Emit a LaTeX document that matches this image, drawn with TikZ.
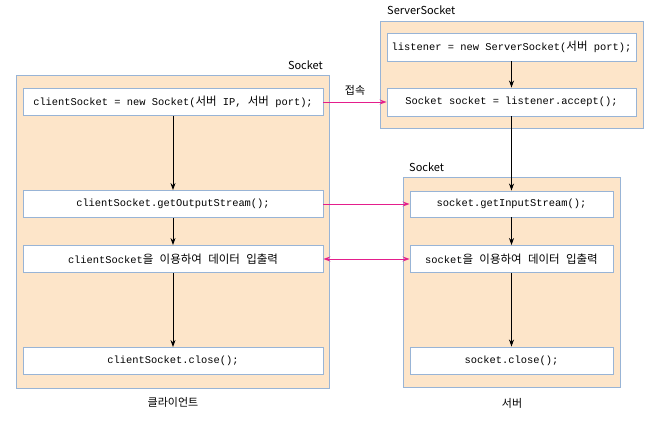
\documentclass[tikz,border=0pt]{standalone}
\usepackage{fontspec}
\usetikzlibrary{arrows.meta}
\setmainfont{Noto Sans CJK KR}
\setmonofont{Liberation Mono}
\newfontfamily\kr{Noto Sans CJK KR}
\newcommand{\hg}[1]{{\kr\fontsize{11.5}{12}\selectfont #1}}
\definecolor{peach}{RGB}{253,229,201}
\definecolor{edgeblue}{RGB}{152,180,214}
\definecolor{linkpink}{RGB}{228,30,140}

\begin{document}
\begin{tikzpicture}[x=1pt,y=-1pt]
\tikzset{panel/.style={draw=edgeblue, fill=peach, line width=0.9pt, minimum width=#1}}
\tikzset{codeline/.style={draw=edgeblue, fill=white, line width=0.9pt, font=\ttfamily\fontsize{10.4}{12}\selectfont, inner sep=0pt}}
\tikzset{tag/.style={font=\fontsize{11}{13}\selectfont, inner sep=0pt}}
\tikzset{flow/.style={-{Stealth[length=7pt,width=5pt]}, line width=0.8pt}}
\tikzset{link/.style={draw=linkpink, line width=0.8pt, -{Stealth[length=7pt,width=5pt,inset=2.5pt]}}}
\tikzset{duplex/.style={draw=linkpink, line width=0.8pt, {Stealth[length=7pt,width=5pt,inset=2.5pt]}-{Stealth[length=7pt,width=5pt,inset=2.5pt]}}}
\useasboundingbox (0,0) rectangle (661,428);
\node[panel=313pt, minimum height=313pt] (client) at (172.5,231.5) {};
\node[panel=263pt, minimum height=107pt] (listen) at (511.5,74.5) {};
\node[panel=217pt, minimum height=210pt] (server) at (511.5,282) {};
\node[codeline, minimum width=300pt, minimum height=27pt] (C1) at (173,102) {clientSocket = new Socket(\hg{서버} IP, \hg{서버} port);};
\node[codeline, minimum width=300pt, minimum height=27pt] (C2) at (173,204) {clientSocket.getOutputStream();};
\node[codeline, minimum width=300pt, minimum height=27pt] (C3) at (173,259) {clientSocket\hg{을} \hg{이용하여} \hg{데이터} \hg{입출력}};
\node[codeline, minimum width=300pt, minimum height=27pt] (C4) at (173,361) {clientSocket.close();};
\node[codeline, minimum width=249pt, minimum height=28pt] (L1) at (511.5,47) {listener = new ServerSocket(\hg{서버} port);};
\node[codeline, minimum width=249pt, minimum height=28pt] (L2) at (511.5,102) {Socket socket = listener.accept();};
\node[codeline, minimum width=203pt, minimum height=26pt] (S1) at (511.5,204) {socket.getInputStream();};
\node[codeline, minimum width=203pt, minimum height=27pt] (S2) at (511.5,259) {socket\hg{을} \hg{이용하여} \hg{데이터} \hg{입출력}};
\node[codeline, minimum width=203pt, minimum height=27pt] (S3) at (511.5,360.5) {socket.close();};
\node[tag, anchor=east] (clientname) at (323,65) {Socket};
\node[tag, anchor=west] (listenname) at (387,10) {ServerSocket};
\node[tag, anchor=west] (servername) at (409,167) {Socket};
\node[tag] (connect) at (355,90) {접속};
\node[tag] (clientside) at (173,402) {클라이언트};
\node[tag] (serverside) at (512,403) {서버};
\draw[flow] (C1) -- (C2);
\draw[flow] (C2) -- (C3);
\draw[flow] (C3) -- (C4);
\draw[flow] (L1) -- (L2);
\draw[flow] (L2) -- (S1);
\draw[flow] (S1) -- (S2);
\draw[flow] (S2) -- (S3);
\draw[link] (C1.east) -- (L2.west);
\draw[link] (C2.east) -- (S1.west);
\draw[duplex] (C3.east) -- (S2.west);
\end{tikzpicture}
\end{document}
